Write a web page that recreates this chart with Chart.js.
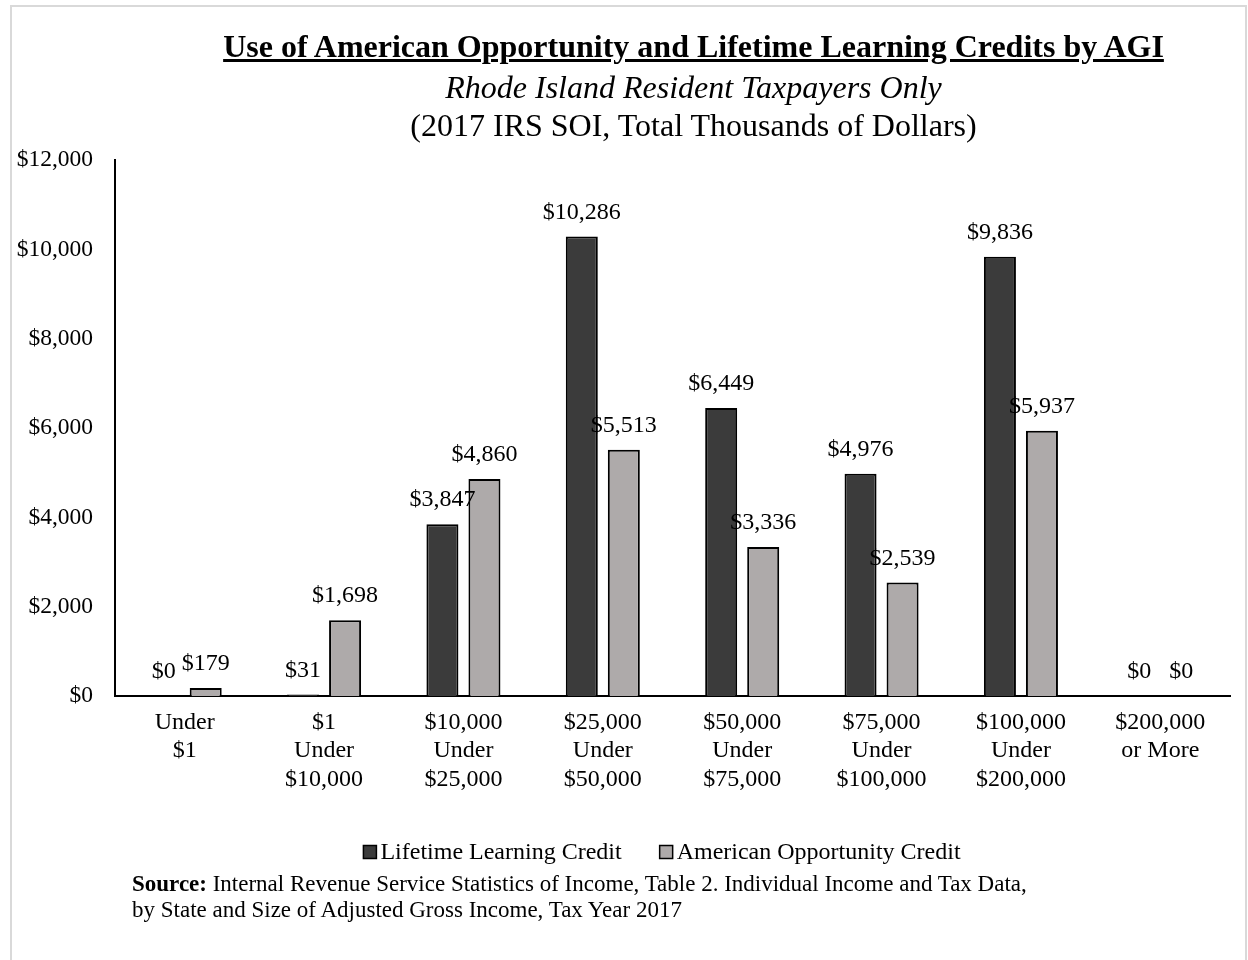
<!DOCTYPE html>
<html>
<head>
<meta charset="utf-8">
<script src="https://cdn.jsdelivr.net/npm/chart.js@4/dist/chart.umd.min.js"></script>
<style>
  body { margin: 0; background: #fff; font-family: 'Liberation Serif', 'Times New Roman', serif; }
  #wrap { position: relative; width: 1248px; height: 960px; overflow: hidden; }
  #frame { position: absolute; left: 10px; top: 5px; width: 1233px; height: 1000px; border: 2px solid #d9d9d9; }
  #chart { position: absolute; left: 0; top: 0; }
  .head { position: absolute; left: 0; width: 1387px; text-align: center; color: #000; white-space: nowrap; }
  #t1 { top: 28px; font-size: 32px; font-weight: bold; text-decoration: underline; }
  #t2 { top: 69px; font-size: 32px; font-style: italic; }
  #t3 { top: 107px; font-size: 32px; }
  #src { position: absolute; left: 132px; top: 871px; font-size: 23px; line-height: 26px; color: #000; white-space: nowrap; }
</style>
</head>
<body>
<div id="wrap">
  <div id="frame"></div>
  <canvas id="chart" width="1248" height="960"></canvas>
  <div class="head" id="t1">Use of American Opportunity and Lifetime Learning Credits by AGI</div>
  <div class="head" id="t2">Rhode Island Resident Taxpayers Only</div>
  <div class="head" id="t3">(2017 IRS SOI, Total Thousands of Dollars)</div>
  <div id="src"><b>Source:</b> Internal Revenue Service Statistics of Income, Table 2. Individual Income and Tax Data,<br>by State and Size of Adjusted Gross Income, Tax Year 2017</div>
</div>
<script>
// Dados do gráfico
const faixas = [
  ['Under', '$1'],
  ['$1', 'Under', '$10,000'],
  ['$10,000', 'Under', '$25,000'],
  ['$25,000', 'Under', '$50,000'],
  ['$50,000', 'Under', '$75,000'],
  ['$75,000', 'Under', '$100,000'],
  ['$100,000', 'Under', '$200,000'],
  ['$200,000', 'or More']
];
const lifetimeLearning = [0, 31, 3847, 10286, 6449, 4976, 9836, 0];
const americanOpportunity = [179, 1698, 4860, 5513, 3336, 2539, 5937, 0];
const yTicks = [0, 2000, 4000, 6000, 8000, 10000, 12000];

const FONTE = "'Liberation Serif', 'Times New Roman', serif";
Chart.defaults.font.family = FONTE;
Chart.defaults.color = '#000';

const fmt = v => '$' + Number(v).toLocaleString('en-US');

// rótulos de valor acima das barras
const rotulosValor = {
  id: 'rotulosValor',
  afterDatasetsDraw(chart) {
    const ctx = chart.ctx;
    ctx.save();
    ctx.font = '24px ' + FONTE;
    ctx.fillStyle = '#000';
    ctx.textAlign = 'center';
    ctx.textBaseline = 'middle';
    chart.data.datasets.forEach((ds, i) => {
      chart.getDatasetMeta(i).data.forEach((bar, j) => {
        ctx.fillText(fmt(ds.data[j]), bar.x, bar.y - 24);
      });
    });
    ctx.restore();
  }
};

// legenda desenhada à mão (caixa colada ao texto, como no Excel)
const legendaExcel = {
  id: 'legendaExcel',
  afterDraw(chart) {
    const ctx = chart.ctx;
    const box = 13, gapTexto = 4, gapItem = 38, yCentro = 852, xCentro = 662;
    ctx.save();
    ctx.font = '24px ' + FONTE;
    ctx.textBaseline = 'middle';
    ctx.textAlign = 'left';
    const itens = chart.data.datasets.map(ds => ({
      texto: ds.label, cor: ds.backgroundColor,
      w: box + gapTexto + ctx.measureText(ds.label).width
    }));
    const total = itens.reduce((s, it) => s + it.w, 0) + gapItem * (itens.length - 1);
    let x = xCentro - total / 2;
    itens.forEach(it => {
      ctx.fillStyle = it.cor;
      ctx.fillRect(x, yCentro - box / 2, box, box);
      ctx.strokeStyle = '#000';
      ctx.lineWidth = 1.5;
      ctx.strokeRect(x, yCentro - box / 2, box, box);
      ctx.fillStyle = '#000';
      ctx.fillText(it.texto, x + box + gapTexto, yCentro + 1);
      x += it.w + gapItem;
    });
    ctx.restore();
  }
};

new Chart(document.getElementById('chart').getContext('2d'), {
  type: 'bar',
  data: {
    labels: faixas,
    datasets: [
      {
        label: 'Lifetime Learning Credit',
        data: lifetimeLearning,
        backgroundColor: '#3b3b3b',
        borderColor: '#000',
        borderWidth: 2
      },
      {
        label: 'American Opportunity Credit',
        data: americanOpportunity,
        backgroundColor: '#aeaaaa',
        borderColor: '#000',
        borderWidth: 2
      }
    ]
  },
  options: {
    responsive: false,
    animation: false,
    layout: { padding: { top: 160, right: 18, bottom: 129, left: 0 } },
    categoryPercentage: 0.603,
    barPercentage: 0.762,
    scales: {
      x: {
        grid: { display: false, drawTicks: false },
        border: { display: true, color: '#000', width: 2 },
        ticks: { font: { size: 24 }, padding: 12, maxRotation: 0, autoSkip: false, lineHeight: 1.21 },
        afterFit: s => { s.height = 135; }
      },
      y: {
        min: 0,
        max: 12000,
        grid: { display: false, drawTicks: false },
        border: { display: true, color: '#000', width: 2 },
        afterBuildTicks: s => { s.ticks = yTicks.map(v => ({ value: v })); },
        ticks: { font: { size: 23.5 }, padding: 22, callback: v => fmt(v) },
        afterFit: s => { s.width = 115; }
      }
    },
    plugins: {
      legend: { display: false },
      tooltip: { enabled: false }
    }
  },
  plugins: [rotulosValor, legendaExcel]
});
</script>
</body>
</html>
